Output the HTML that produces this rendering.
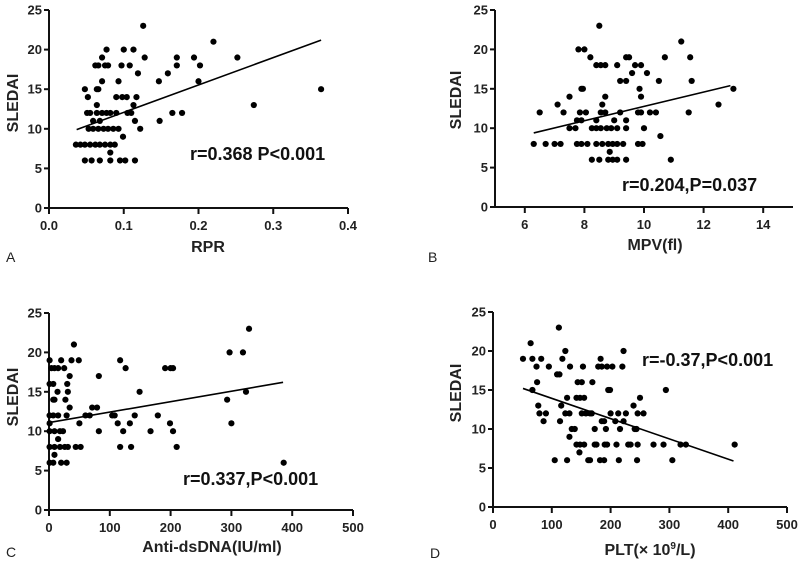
<!DOCTYPE html>
<html><head><meta charset="utf-8"><style>
html,body{margin:0;padding:0;background:#fff}
svg{display:block;font-family:"Liberation Sans",Arial,sans-serif}
.tk{font-size:13px;font-weight:bold;fill:#222}
.ti{font-size:16px;font-weight:bold;fill:#222}
.an{font-size:18px;font-weight:bold;fill:#111}
.lt{font-size:14px;fill:#222}
</style></head><body>
<svg id="c" width="800" height="561" viewBox="0 0 800 561"></svg>
<script>
const aX=[0.048,0.052,0.051,0.055,0.036,0.042,0.048,0.055,0.062,0.068,0.075,0.082,0.088,0.048,0.057,0.068,0.082,0.095,0.102,0.115,0.082,0.053,0.059,0.066,0.073,0.079,0.086,0.093,0.059,0.068,0.064,0.064,0.066,0.062,0.066,0.075,0.079,0.071,0.077,0.071,0.064,0.071,0.077,0.082,0.09,0.09,0.098,0.104,0.093,0.097,0.108,0.1,0.113,0.099,0.105,0.11,0.113,0.117,0.115,0.119,0.122,0.126,0.128,0.147,0.148,0.159,0.171,0.171,0.165,0.178,0.194,0.202,0.2,0.22,0.252,0.274,0.364];
const aY=[15,14,12,12,8,8,8,8,8,8,8,8,8,6,6,6,6,6,6,6,7,10,10,10,10,10,10,10,11,11,13,15,15,18,18,18,18,19,20,16,12,12,12,12,12,14,14,14,16,18,18,20,20,9,12,12,13,14,11,17,10,23,19,16,11,17,18,19,12,12,19,18,16,21,19,13,15];
const aFit=[[0.037,9.9],[0.364,21.2]];
const bX=[6.3,6.7,7.0,7.2,6.5,7.1,7.3,7.5,7.5,7.7,7.75,7.9,7.75,7.9,8.1,7.85,8.05,7.8,8.0,7.9,7.95,8.2,8.4,8.55,8.7,8.5,8.25,8.5,8.25,8.4,8.55,8.75,8.9,9.1,8.4,8.4,8.6,8.8,8.95,9.1,9.3,8.55,8.7,8.6,8.7,8.85,8.8,8.95,9.1,9.4,9.0,9.2,9.4,9.4,9.1,9.2,9.4,9.4,9.5,9.6,9.7,9.9,9.85,9.9,9.8,9.9,9.8,9.95,10.0,10.1,10.2,10.4,10.5,10.55,10.7,10.9,11.25,11.5,11.55,11.6,12.5,13.0];
const bY=[8,8,8,8,12,13,12,14,10,10,11,11,8,8,8,12,12,20,20,15,15,19,18,18,18,23,6,6,10,10,10,10,10,10,11,8,8,8,8,8,8,12,12,13,14,7,6,6,6,6,11,12,11,10,18,16,16,19,19,17,18,18,15,14,12,12,8,8,10,17,12,12,16,9,19,6,21,12,19,16,13,15];
const bFit=[[6.3,9.4],[12.9,15.4]];
const cX=[1,1,4,9,15,7,9,7,1,7,15,1,1,9,18,23,1,9,18,26,31,1,7,20,29,9,15,14,20,25,27,30,31,34,34,29,37,41,49,50,44,52,60,67,71,79,82,82,104,108,113,117,117,122,126,133,135,141,149,167,179,191,199,200,204,204,210,293,297,300,319,324,329,386];
const cY=[19,16,18,18,18,16,14,14,12,12,12,11,10,10,10,10,8,8,8,8,8,6,6,6,6,7,9,15,19,18,14,16,15,17,13,12,19,21,19,11,8,8,12,12,13,13,10,17,12,12,11,19,8,10,18,11,8,12,15,10,12,18,11,18,10,18,8,14,20,11,20,15,23,6];
const cFit=[[0,11.1],[385,16.2]];
const dX=[51,64,67,67,74,75,77,79,82,86,90,95,105,109,113,112,114,116,118,123,123,126,126,130,130,131,134,139,142,142,144,147,148,148,151,151,153,155,155,158,162,165,165,168,169,173,173,176,179,182,183,185,185,189,189,190,192,194,194,196,199,200,203,208,210,213,214,216,220,222,222,226,230,234,239,241,244,245,246,246,250,256,273,290,294,305,319,328,411];
const dY=[19,21,19,15,18,16,13,12,19,11,12,18,6,17,17,23,11,13,19,20,12,6,14,12,9,18,10,10,8,14,16,7,8,14,16,12,18,14,8,12,6,12,6,12,16,10,8,8,18,6,19,18,11,6,11,8,10,18,8,15,15,12,18,11,8,12,6,10,18,11,20,12,8,8,13,10,10,6,8,12,14,12,8,8,15,6,8,8,8];
const dFit=[[51,15.2],[409,5.9]];
const yTicks=[0,5,10,15,20,25];
const aTicks=["0.0","0.1","0.2","0.3","0.4"];
const bTicks=["6","8","10","12","14"];
const cTicks=["0","100","200","300","400","500"];
const dTicks=["0","100","200","300","400","500"];

const NS="http://www.w3.org/2000/svg";
const svg=document.getElementById('c');
function mk(tag,attrs,parent,text){const e=document.createElementNS(NS,tag);for(const k in attrs)e.setAttribute(k,attrs[k]);if(text!==undefined)e.textContent=text;parent.appendChild(e);return e;}

function panel(p){
  const g=mk('g',{},svg);
  
  
  const sx=v=>p.x0+(v-p.xmin)/(p.xmax-p.xmin)*(p.x1-p.x0);
  const sy=v=>p.y0-(v/25)*(p.y0-p.y1);
  const ax=mk('line',{x1:p.x0,y1:p.y0,x2:p.x1,y2:p.y0,stroke:'#111','stroke-width':2},g);
  
  
  const ay=mk('line',{x1:p.x0,y1:p.y0+1,x2:p.x0,y2:p.y1,stroke:'#111','stroke-width':2},g);
  
  
  yTicks.forEach(t=>{const y=sy(t);mk('line',{x1:p.x0-5,y1:y,x2:p.x0,y2:y,stroke:'#111','stroke-width':2},g);
    const tl=mk('text',{x:p.x0-7,y:y+4.5,'text-anchor':'end',class:'tk'},g,String(t));
    
    });
  p.xt.forEach(s=>{const x=sx(parseFloat(s));mk('line',{x1:x,y1:p.y0,x2:x,y2:p.y0+6,stroke:'#111','stroke-width':2},g);
    const tl=mk('text',{x:x,y:p.y0+22,'text-anchor':'middle',class:'tk'},g,s);
    
    });
  p.xs.forEach((v,i)=>{const c=mk('circle',{cx:sx(v),cy:sy(p.ys[i]),r:3.1,fill:'#000'},g);
    
    });
  const fl=mk('line',{x1:sx(p.fit[0][0]),y1:sy(p.fit[0][1]),x2:sx(p.fit[1][0]),y2:sy(p.fit[1][1]),stroke:'#000','stroke-width':1.6},g);
  
  
  const yt=mk('text',{x:0,y:0,'text-anchor':'middle',class:'ti',transform:`translate(${p.ytx},${p.yty}) rotate(-90)`},g,'SLEDAI');
  
  
  const xt=mk('text',{x:p.xtx,y:p.xty,'text-anchor':'middle',class:'ti'},g);
  
  
  if(p.sup){xt.appendChild(document.createTextNode(p.xtitle));const ts=mk('tspan',{dy:-6,'font-size':10},xt,p.sup);mk('tspan',{dy:6},xt,p.after);}
  else xt.textContent=p.xtitle;
  const an=mk('text',{x:p.anx,y:p.any,class:'an'},g,p.ann);
  
  
  const lt=mk('text',{x:p.lx,y:p.ly,class:'lt'},g,p.id.toUpperCase());
  
  
}
panel({id:'a',xs:aX,ys:aY,fit:aFit,xt:aTicks,xmin:0,xmax:0.4,x0:49,x1:348,y0:208,y1:10,ytx:18,yty:103,xtx:208,xty:252,xtitle:'RPR',ann:'r=0.368 P<0.001',anx:190,any:160,lx:6,ly:262});
panel({id:'b',xs:bX,ys:bY,fit:bFit,xt:bTicks,xmin:5,xmax:15,x0:495,x1:793,y0:207,y1:10,ytx:461,yty:100,xtx:655,xty:250,xtitle:'MPV(fl)',ann:'r=0.204,P=0.037',anx:622,any:191,lx:428,ly:262});
panel({id:'c',xs:cX,ys:cY,fit:cFit,xt:cTicks,xmin:0,xmax:500,x0:49,x1:353,y0:510,y1:313,ytx:18,yty:397,xtx:212,xty:552,xtitle:'Anti-dsDNA(IU/ml)',ann:'r=0.337,P<0.001',anx:183,any:485,lx:6,ly:557});
panel({id:'d',xs:dX,ys:dY,fit:dFit,xt:dTicks,xmin:0,xmax:500,x0:493,x1:787,y0:507,y1:312,ytx:461,yty:393,xtx:650,xty:555,xtitle:'PLT(× 10',sup:'9',after:'/L)',ann:'r=-0.37,P<0.001',anx:642,any:366,lx:430,ly:558});
</script>
</body></html>
